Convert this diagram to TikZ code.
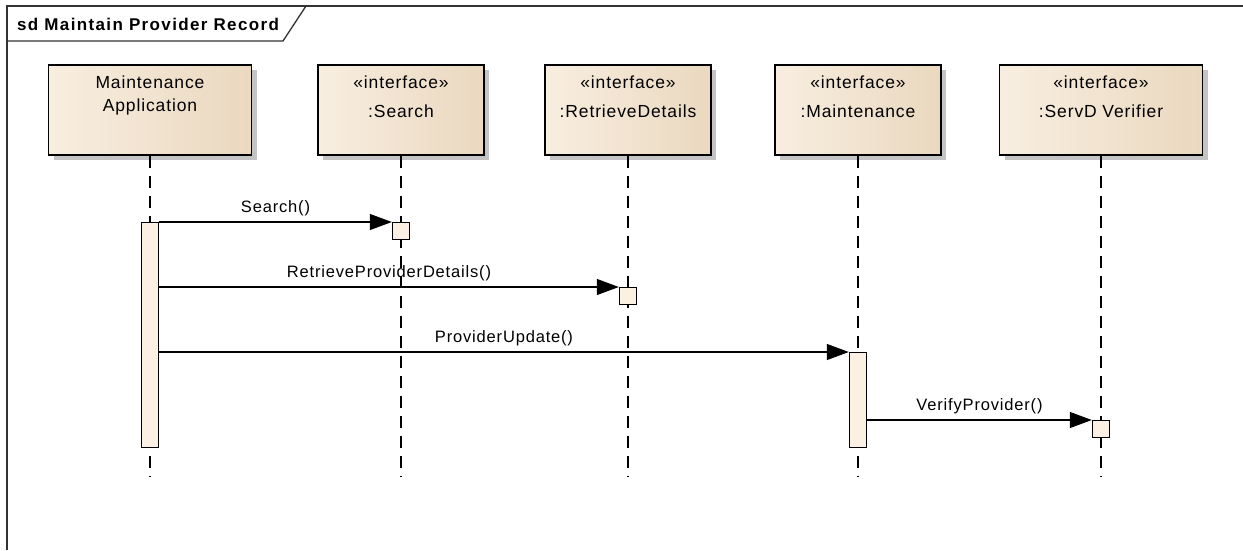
\documentclass[tikz,border=0pt]{standalone}
\usepackage{fontspec}
\setmainfont{Liberation Sans}
\newfontfamily\uml[LetterSpace=5]{Liberation Sans}
\newfontfamily\umlt[LetterSpace=8]{Liberation Sans}
\usetikzlibrary{arrows.meta}
\definecolor{boxL}{HTML}{F8EEE0}
\definecolor{boxR}{HTML}{EAD8BF}
\definecolor{actfill}{HTML}{FCF0E2}
\definecolor{shadowgray}{HTML}{C4C4C4}
\definecolor{framegray}{HTML}{333333}
\tikzset{
  lifebox/.style={draw=black, line width=1.4pt, minimum height=90pt, inner sep=0pt,
    left color=boxL, right color=boxR,
    preaction={fill=shadowgray, transform canvas={xshift=5pt,yshift=-5pt}}},
  boxtext/.style={font=\uml\fontsize{17.5}{23}\selectfont, align=center, anchor=north, inner sep=0pt},
  ifacetext/.style={boxtext, font=\uml\fontsize{17.5}{29}\selectfont},
  lifeline/.style={line width=1.5pt, dash pattern=on 12pt off 8pt},
  actbox/.style={draw=black, line width=1.4pt, fill=actfill, minimum width=17pt, inner sep=0pt},
  msg/.style={line width=1.2pt, -{Triangle[length=22pt,width=16pt]}},
  msglbl/.style={font=\uml\fontsize{16.5}{19}\selectfont, inner sep=0pt, midway, yshift=14pt},
}
\begin{document}
\begin{tikzpicture}[x=1pt,y=-1pt]
\useasboundingbox (0,0) rectangle (1243,550);
\fill[white] (0,0) rectangle (1243,550);
% frame
\draw[framegray, line width=1.3pt] (7,550) -- (7,6) -- (1243,6);
\draw[framegray, line width=1.3pt] (7,41) -- (283,41) -- (306,6);
\node[anchor=west, inner sep=0pt, font=\umlt\bfseries\fontsize{17}{20}\selectfont] (title) at (17,24) {sd Maintain Provider Record};
% lifeline heads
\node[lifebox, minimum width=203pt] (ma) at (150,110) {};
\node[lifebox, minimum width=166pt] (se) at (401,110) {};
\node[lifebox, minimum width=166pt] (rd) at (628,110) {};
\node[lifebox, minimum width=166pt] (mt) at (858,110) {};
\node[lifebox, minimum width=203pt] (sv) at (1101,110) {};
\node[boxtext] (mat) at ([yshift=-11pt]ma.north) {Maintenance\\Application};
\node[ifacetext] (set) at ([yshift=-11pt]se.north) {«interface»\\:Search};
\node[ifacetext] (rdt) at ([yshift=-11pt]rd.north) {«interface»\\:RetrieveDetails};
\node[ifacetext] (mtt) at ([yshift=-11pt]mt.north) {«interface»\\:Maintenance};
\node[ifacetext] (svt) at ([yshift=-11pt]sv.north) {«interface»\\:ServD Verifier};
% lifeline ends
\coordinate (mae) at (150,476);
\coordinate (see) at (401,476);
\coordinate (rde) at (628,476);
\coordinate (mte) at (858,476);
\coordinate (sve) at (1101,476);
\draw[lifeline] (ma.south) -- (mae);
\draw[lifeline] (se.south) -- (see);
\draw[lifeline] (rd.south) -- (rde);
\draw[lifeline] (mt.south) -- (mte);
\draw[lifeline] (sv.south) -- (sve);
% activations
\node[actbox, minimum height=225pt, anchor=north] (a1) at (150,222) {};
\node[actbox, minimum height=17pt, anchor=north] (a2) at (401,222) {};
\node[actbox, minimum height=17pt, anchor=north] (a3) at (628,287) {};
\node[actbox, minimum height=95pt, anchor=north] (a4) at (858,352) {};
\node[actbox, minimum height=17pt, anchor=north] (a5) at (1101,420) {};
% messages
\draw[msg] (a1.north east) -- (a2.north west) node[msglbl] (l1) {Search()};
\draw[msg] (a1.east |- a3.north) -- (a3.north west) node[msglbl] (l2) {RetrieveProviderDetails()};
\draw[msg] (a1.east |- a4.north) -- (a4.north west) node[msglbl] (l3) {ProviderUpdate()};
\draw[msg] (a4.east |- a5.north) -- (a5.north west) node[msglbl] (l4) {VerifyProvider()};
\end{tikzpicture}
\end{document}
